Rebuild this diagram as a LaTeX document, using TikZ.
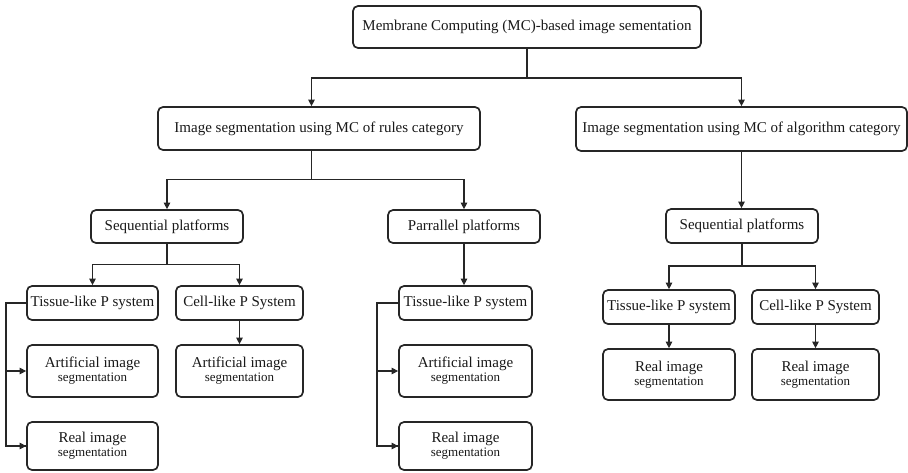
\documentclass[tikz,border=0pt]{standalone}
\usepackage{fontspec}
\setmainfont{Liberation Serif}
\usetikzlibrary{arrows.meta}
\newcommand{\subline}[1]{{\fontsize{13}{15}\selectfont #1}}
\begin{document}
\begin{tikzpicture}[x=1pt,y=-1pt,
  box/.style={draw=black!85, line width=1.7pt, rounded corners=5pt, fill=white,
    inner sep=0pt, align=center, font=\fontsize{15}{17}\selectfont, text=black!90},
  conn/.style={draw=black!85, line width=1.1pt},
  arr/.style={conn, -{Triangle[length=6.5pt,width=6.5pt]}}]
\useasboundingbox (0,0) rectangle (908,472);

% level 1
\node[box, minimum width=348pt, minimum height=42pt] (top) at (527,27)
  {Membrane Computing (MC)-based image sementation};

% level 2
\node[box, minimum width=322pt, minimum height=43pt] (rules) at (319,128.5)
  {Image segmentation using MC of rules category};
\node[box, minimum width=331pt, minimum height=44pt] (algo) at (741.5,129)
  {Image segmentation using MC of algorithm category};

% level 3
\node[box, minimum width=152pt, minimum height=33pt] (seqA) at (167,226.5) {Sequential platforms};
\node[box, minimum width=152pt, minimum height=33pt] (par) at (464,226.5) {Parrallel platforms};
\node[box, minimum width=152pt, minimum height=34pt] (seqB) at (742,226) {Sequential platforms};

% level 4, rules / sequential
\node[box, minimum width=131pt, minimum height=34pt] (tisA) at (92.5,303) {Tissue-like P system};
\node[box, minimum width=127pt, minimum height=34pt] (celA) at (239.5,303) {Cell-like P System};
\node[box, minimum width=131pt, minimum height=52pt] (artA) at (92.5,371)
  {Artificial image\\[-3pt]\subline{segmentation}};
\node[box, minimum width=127pt, minimum height=52pt] (artB) at (239.5,371)
  {Artificial image\\[-3pt]\subline{segmentation}};
\node[box, minimum width=131pt, minimum height=48pt] (realA) at (92.5,446)
  {Real image\\[-3pt]\subline{segmentation}};

% level 4, rules / parallel
\node[box, minimum width=133pt, minimum height=34pt] (tisB) at (465.5,303) {Tissue-like P system};
\node[box, minimum width=133pt, minimum height=52pt] (artC) at (465.5,371)
  {Artificial image\\[-3pt]\subline{segmentation}};
\node[box, minimum width=133pt, minimum height=48pt] (realB) at (465.5,446)
  {Real image\\[-3pt]\subline{segmentation}};

% level 4, algorithm / sequential
\node[box, minimum width=132pt, minimum height=34pt] (tisC) at (669,307) {Tissue-like P system};
\node[box, minimum width=127pt, minimum height=34pt] (celC) at (815.5,307) {Cell-like P System};
\node[box, minimum width=132pt, minimum height=51pt] (realC) at (669,374.5)
  {Real image\\[-3pt]\subline{segmentation}};
\node[box, minimum width=127pt, minimum height=51pt] (realD) at (815.5,374.5)
  {Real image\\[-3pt]\subline{segmentation}};

% junction points
\coordinate (j1) at (527,78);
\coordinate (j2) at (311.5,179.5);
\coordinate (j3) at (167,264.5);
\coordinate (j4) at (742,266);
\coordinate (bA) at (6,303);
\coordinate (bB) at (377,303);

% connectors
\draw[conn] (top.south) -- (j1);
\draw[arr] (j1) -| ([xshift=-7.5pt]rules.north);
\draw[arr] (j1) -| (algo.north);

\draw[conn] ([xshift=-7.5pt]rules.south) -- (j2);
\draw[arr] (j2) -| (seqA.north);
\draw[arr] (j2) -| (par.north);

\draw[conn] (seqA.south) -- (j3);
\draw[arr] (j3) -| (tisA.north);
\draw[arr] (j3) -| (celA.north);
\draw[arr] (celA.south) -- (artB.north);

\draw[arr] (par.south) -- (par.south |- tisB.north);

\draw[arr] (algo.south) -- (algo.south |- seqB.north);
\draw[conn] (seqB.south) -- (j4);
\draw[arr] (j4) -| (tisC.north);
\draw[arr] (j4) -| (celC.north);
\draw[arr] (tisC.south) -- (realC.north);
\draw[arr] (celC.south) -- (realD.north);

% side brackets from the tissue-like boxes
\draw[conn] (tisA.west) -- (bA) |- (realA.west);
\draw[arr] (bA) |- (artA.west);
\draw[arr] (bA |- realA.west) -- (realA.west);
\draw[conn] (tisB.west) -- (bB) |- (realB.west);
\draw[arr] (bB) |- (artC.west);
\draw[arr] (bB |- realB.west) -- (realB.west);
\end{tikzpicture}
\end{document}
